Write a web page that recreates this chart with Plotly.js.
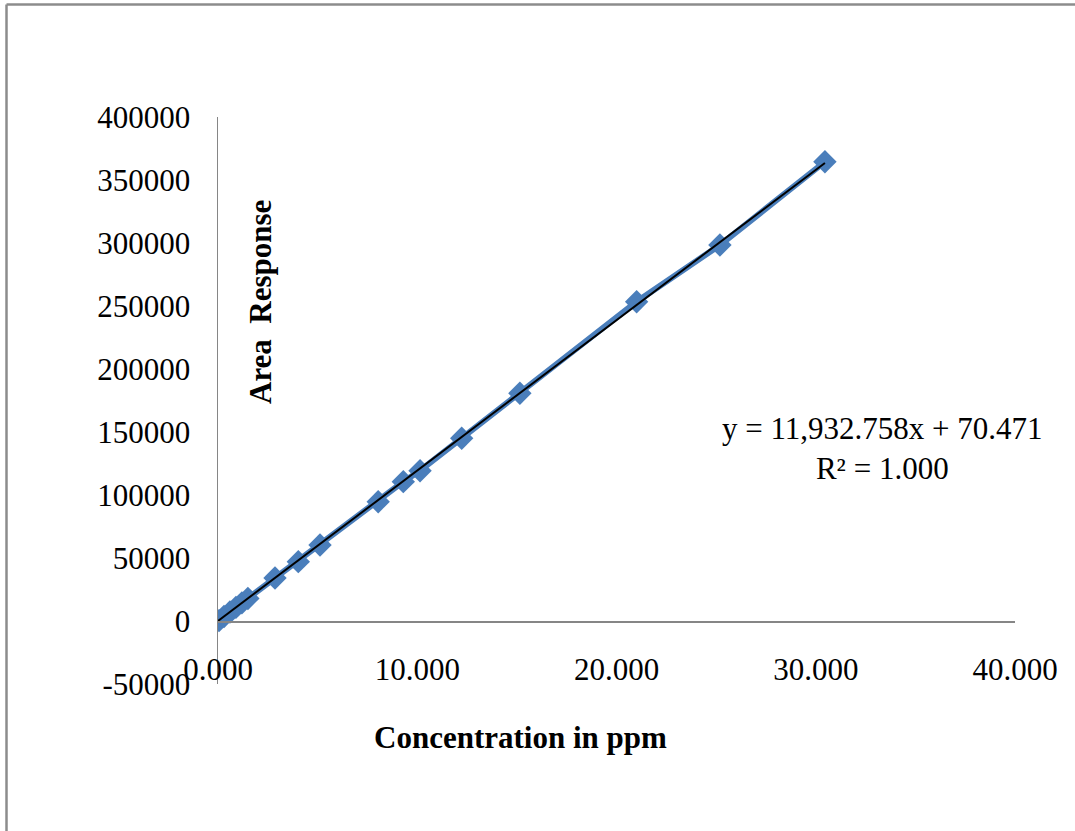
<!DOCTYPE html>
<html>
<head>
<meta charset="utf-8">
<script src="https://cdn.plot.ly/plotly-3.0.1.min.js"></script>
<style>
html,body{margin:0;padding:0;background:#fff;}
#chart{width:1075px;height:831px;}
</style>
</head>
<body>
<div id="chart"></div>
<script>
// Data
const concentration = [0.05, 0.3, 0.6, 0.9, 1.2, 1.5, 2.86, 4.03, 5.12, 8.04, 9.30, 10.14, 12.23, 15.15, 21.01, 25.19, 30.46];
const areaResponse  = [300, 3600, 7200, 10800, 14400, 17900, 34100, 47100, 60300, 94700, 110600, 119300, 145000, 180700, 253400, 298400, 364500];
const xTickVals = [0, 10, 20, 30, 40];
const xTickText = ['0.000', '10.000', '20.000', '30.000', '40.000'];
const yTickVals = [-50000, 0, 50000, 100000, 150000, 200000, 250000, 300000, 350000, 400000];
const yTickText = ['-50000', '0', '50000', '100000', '150000', '200000', '250000', '300000', '350000', '400000'];
const trendSlope = 11932.758;
const trendIntercept = 70.471;
const equationText = 'y = 11,932.758x + 70.471<br>R² = 1.000';
const xTitle = 'Concentration in ppm';
const yTitle = 'Area  Response';

const FONT = '"Liberation Serif", "Times New Roman", serif';
const xMax = Math.max(...concentration);
const trendX = [0, xMax];
const trendY = trendX.map(v => trendSlope * v + trendIntercept);

const traces = [
  {
    x: concentration, y: areaResponse, type: 'scatter', mode: 'lines+markers',
    line: {color: '#4a7ebb', width: 6},
    marker: {symbol: 'diamond', size: 18, color: '#4a7ebb'},
    hoverinfo: 'x+y', showlegend: false
  },
  {
    x: trendX, y: trendY, type: 'scatter', mode: 'lines',
    line: {color: '#000000', width: 2},
    hoverinfo: 'skip', showlegend: false
  }
];

const layout = {
  width: 1075, height: 831,
  margin: {l: 218, r: 60, t: 117, b: 147},
  paper_bgcolor: '#ffffff', plot_bgcolor: '#ffffff',
  font: {family: FONT, size: 31, color: '#000'},
  showlegend: false,
  xaxis: {
    range: [0, 40], tickvals: xTickVals, ticktext: xTickText,
    showgrid: false, zeroline: false, showline: true, linecolor: '#868686', linewidth: 1.5,
    ticks: '', anchor: 'free', position: 50000/450000,
    tickfont: {family: FONT, size: 31, color: '#000'}, ticklabelstandoff: 20
  },
  yaxis: {
    range: [-50000, 400000], tickvals: yTickVals, ticktext: yTickText,
    showgrid: false, zeroline: false, showline: true, linecolor: '#868686', linewidth: 1.5,
    ticks: '', tickfont: {family: FONT, size: 31, color: '#000'}, ticklabelstandoff: 20
  },
  annotations: [
    {text: '<b>' + xTitle + '</b>', xref: 'paper', yref: 'paper', x: (520-218)/797, y: (684-737)/567,
     showarrow: false, font: {family: FONT, size: 31, color: '#000'}, xanchor: 'center', yanchor: 'middle'},
    {text: '<b>' + yTitle + '</b>', xref: 'paper', yref: 'paper', x: (260-218)/797, y: (684-302)/567,
     showarrow: false, textangle: -90, font: {family: FONT, size: 31, color: '#000'}, xanchor: 'center', yanchor: 'middle'},
    {text: equationText, xref: 'paper', yref: 'paper', x: (882-218)/797, y: (684-448)/567,
     showarrow: false, align: 'center', font: {family: FONT, size: 31, color: '#000'}, xanchor: 'center', yanchor: 'middle'}
  ],
  shapes: [
    {type: 'line', xref: 'paper', yref: 'paper', x0: (6.5-218)/797, x1: (1075-218)/797, y0: (684-4.5)/567, y1: (684-4.5)/567,
     line: {color: '#8c8c8c', width: 2.5}},
    {type: 'line', xref: 'paper', yref: 'paper', x0: (6.5-218)/797, x1: (6.5-218)/797, y0: (684-4.5)/567, y1: (684-831)/567,
     line: {color: '#8c8c8c', width: 2.5}}
  ]
};

Plotly.newPlot('chart', traces, layout, {displayModeBar: false, staticPlot: true});
</script>
</body>
</html>
